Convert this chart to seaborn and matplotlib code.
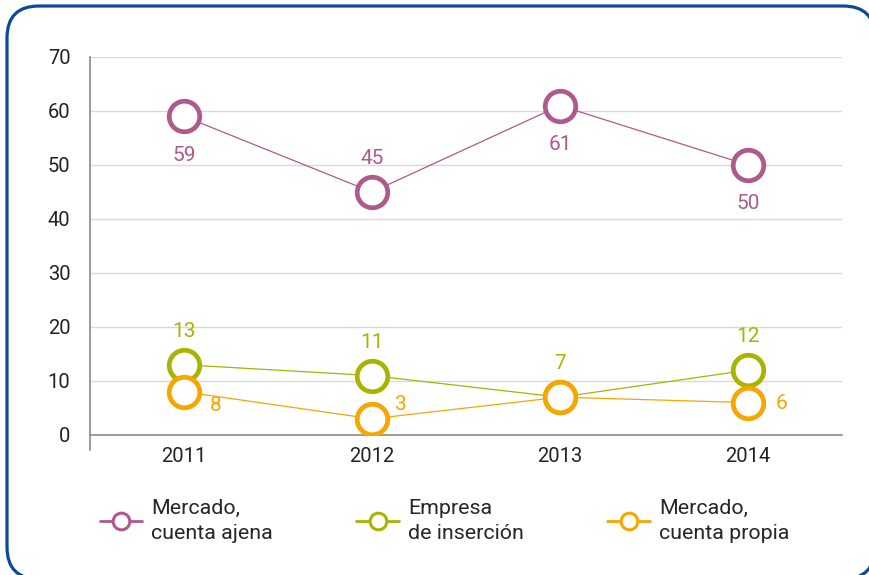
import matplotlib
matplotlib.use("Agg")
import matplotlib.pyplot as plt
import pandas as pd
import seaborn as sns
from matplotlib.lines import Line2D
from matplotlib.patches import FancyBboxPatch

# Data
years = ["2011", "2012", "2013", "2014"]
ajena = [59, 45, 61, 50]
insercion = [13, 11, 7, 12]
propia = [8, 3, 7, 6]
series_names = ["Mercado,\ncuenta ajena", "Empresa\nde inserción", "Mercado,\ncuenta propia"]
colors = ["#ae5a8c", "#a8b400", "#f7a600"]

# where each value label sits relative to its marker (None = not shown)
label_pos = [
    ["below", "above", "below", "below"],
    ["above", "above", "above", "above"],
    ["right_low", "right_high", None, "right"],
]
offsets = {
    "above": (0, 24), "below": (0, -28),
    "right": (24, -1), "right_low": (23, -10), "right_high": (21, 10),
}

sns.set_theme(style="white")
plt.rcParams["font.family"] = ["Roboto", "DejaVu Sans"]

W, H = 870, 575
fig = plt.figure(figsize=(W / 100, H / 100), dpi=100)
ax = fig.add_axes([0.1034, 0.2435, 0.8644, 0.6574])

df = pd.DataFrame({"year": years * 3,
                   "value": ajena + insercion + propia,
                   "serie": sum([[s] * 4 for s in series_names], [])})

for i, name in enumerate(series_names):
    sub = df[df["serie"] == name]
    sns.lineplot(data=sub, x="year", y="value", ax=ax, color=colors[i],
                 linewidth=0.9, marker="o", markersize=22,
                 markerfacecolor="white", markeredgecolor=colors[i],
                 markeredgewidth=3.4, zorder=3 + i)
    for j, v in enumerate(sub["value"]):
        pos = label_pos[i][j]
        if pos is None:
            continue
        ax.annotate(str(v), (j, v), xytext=offsets[pos], textcoords="offset points",
                    ha="center", va="center", color=colors[i], fontsize=15, zorder=10)

ax.set_xlim(-0.5, 3.5)
ax.set_ylim(0, 70)
ax.set_yticks(range(0, 71, 10))
ax.set_xticks(range(4))
ax.set_xticklabels(years)
ax.set_xticks([-0.5, 0.5, 1.5, 2.5, 3.5], minor=True)
ax.set_xlabel("")
ax.set_ylabel("")
ax.grid(axis="y", color="#d9d9d9", linewidth=1)
ax.set_axisbelow(True)
for s in ["top", "right"]:
    ax.spines[s].set_visible(False)
for s in ["left", "bottom"]:
    ax.spines[s].set_color("#8a8a8a")
    ax.spines[s].set_linewidth(1.2)
ax.spines["left"].set_bounds(-2.8, 70)
ax.tick_params(axis="x", which="major", length=0, labelsize=14.5, labelcolor="#222222", pad=9)
ax.tick_params(axis="x", which="minor", length=11, width=1.2, color="#8a8a8a", direction="out")
ax.tick_params(axis="y", length=11, width=1.2, color="#8a8a8a", labelsize=14.5,
               labelcolor="#222222", pad=3)

handles = [Line2D([0], [0], color=c, linewidth=2, marker="o", markersize=12,
                  markerfacecolor="white", markeredgecolor=c, markeredgewidth=2.2)
           for c in colors]
leg = fig.legend(handles, series_names, loc="center", bbox_to_anchor=(0.511, 0.094),
                 ncol=3, frameon=False, fontsize=15.4, handlelength=2.0,
                 handletextpad=0.42, columnspacing=3.9)
for t in leg.get_texts():
    t.set_linespacing(1.45)

# rounded frame, partly running off the right and bottom edges
# (white fill behind everything so Agg doesn't clip the curved path badly)
border = FancyBboxPatch((7 / W, -4 / H), 868 / W, 573 / H,
                        boxstyle=f"round,pad=0,rounding_size={32 / W}",
                        mutation_aspect=W / H, transform=fig.transFigure,
                        facecolor="white", edgecolor="#0b4a96", linewidth=2.3,
                        clip_on=False, zorder=-1)
fig.add_artist(border)

fig.savefig("out.png", dpi=100)
